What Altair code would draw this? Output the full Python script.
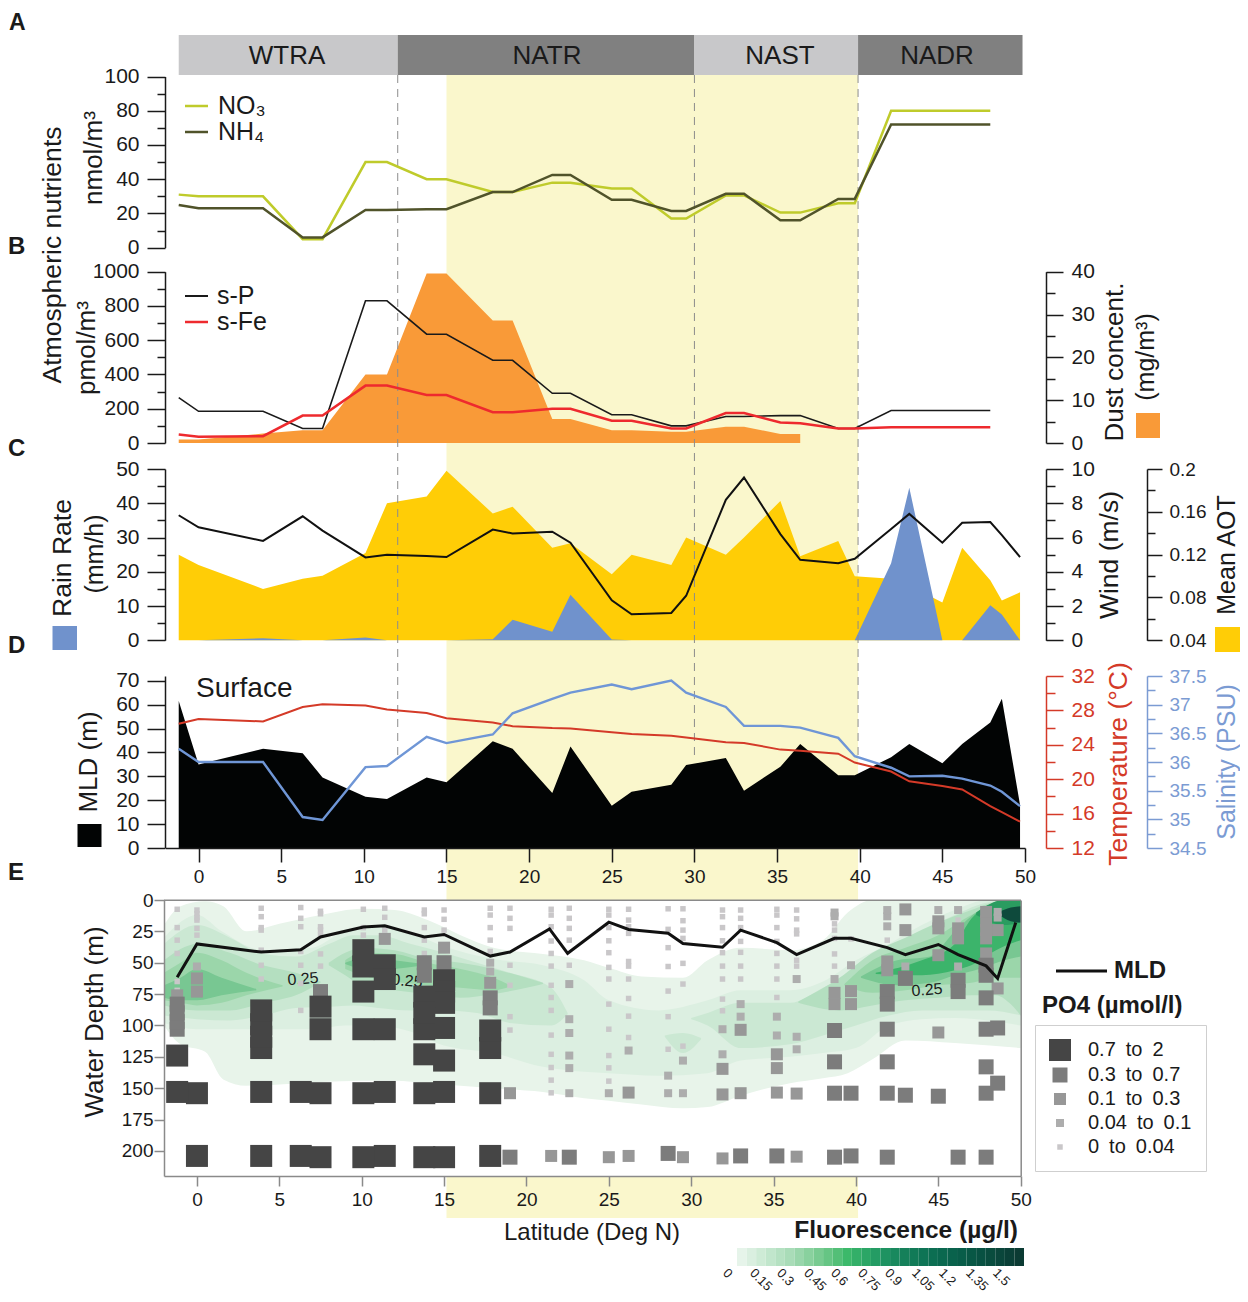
import altair as alt
import pandas as pd

W, H = 1232, 1286
FONT = "Liberation Sans"
INK = "#1a1a1a"

# ---------- stations ----------
LAT_AB = [-1.2, 0, 3.9, 6.3, 7.5, 10.1, 11.4, 13.8, 15, 17.8, 19, 21.4, 22.5, 25, 26.2, 28.6, 29.5, 31.9, 33, 35.2, 36.4, 38.7, 39.7, 41.9, 47.9]
LAT_CD = [-1.2, 0, 3.9, 6.3, 7.5, 10.1, 11.4, 13.8, 15, 17.8, 19, 21.4, 22.5, 25, 26.2, 28.6, 29.5, 31.9, 33, 35.2, 36.4, 38.7, 39.7, 41.9, 43, 45, 46.2, 47.9, 48.6, 49.7]

# ---------- panel A ----------
NO3 = [31, 30, 30, 5, 5, 50, 50, 40, 40, 32.5, 32.5, 38, 38, 34.6, 34.6, 17, 17, 30.5, 30.5, 20.5, 20.5, 26, 26, 80, 80]
NH4 = [25, 23, 23, 6, 6, 22, 22, 22.5, 22.5, 32.5, 32.5, 42.5, 42.5, 28, 28, 21.5, 21.5, 31.5, 31.5, 16, 16, 28.5, 28.5, 72, 72]
# ---------- panel B ----------
S_P = [265, 185, 185, 85, 85, 830, 830, 635, 635, 483, 483, 290, 290, 165, 165, 100, 100, 155, 155, 160, 160, 85, 85, 190, 190]
S_FE = [50, 37, 40, 160, 160, 335, 335, 280, 280, 180, 180, 200, 200, 130, 130, 85, 85, 175, 175, 120, 115, 85, 85, 92, 92]
LAT_DUST = [-1.2, 0, 3.9, 6.3, 7.5, 10.1, 11.4, 13.8, 15, 17.8, 19, 21.4, 22.5, 25, 26.2, 28.6, 29.5, 31.9, 33, 35.2, 36.4]
DUST = [0.8, 0.8, 2.2, 3, 3, 16, 16, 39.6, 39.6, 28.6, 28.6, 5.6, 5.6, 3, 3, 2.6, 2.6, 3.8, 3.8, 2.1, 2.1]
# ---------- panel C ----------
AOT = [.12, .1104, .088, .0976, .1002, .1216, .168, .1744, .1984, .1584, .1648, .1264, .1306, .1018, .12, .1104, .136, .12, .136, .1702, .1184, .1328, .0998, .0976, .0912, .0752, .1264, .096, .0771, .0848]
RAIN = [0, 0, 0.6, 0, 0, 0.8, 0, 0, 0, 0.3, 6, 2.5, 13.3, 0.2, 0, 0, 0, 0, 0, 0, 0, 0, 0, 22.5, 44.5, 0, 0, 10.2, 7.5, 0]
WIND = [7.3, 6.6, 5.8, 7.24, 6.4, 4.84, 5, 4.92, 4.86, 6.46, 6.24, 6.34, 5.7, 2.34, 1.52, 1.6, 2.6, 8.2, 9.5, 6.2, 4.7, 4.5, 4.76, 6.5, 7.38, 5.7, 6.86, 6.9, 6.14, 4.86]
# ---------- panel D ----------
MLD = [61.5, 35, 41.5, 39.7, 29.5, 21.5, 20.5, 29.5, 27.5, 44.7, 41.5, 23, 42.5, 17.7, 23.5, 26.5, 34.7, 37.7, 24, 34, 43.5, 30.5, 30.5, 38, 43.5, 35.5, 43.5, 52.5, 62.5, 18]
TEMP = [26.44, 27, 26.72, 28.39, 28.72, 28.58, 28.11, 27.69, 27.08, 26.58, 26.17, 25.94, 25.89, 25.47, 25.25, 25.06, 24.86, 24.31, 24.22, 23.44, 23.31, 22.97, 21.94, 20.89, 19.75, 19.22, 18.81, 16.86, 16.17, 15.06]
SAL = [36.23, 36, 36, 35.04, 34.99, 35.91, 35.93, 36.44, 36.33, 36.48, 36.85, 37.1, 37.21, 37.35, 37.27, 37.42, 37.21, 36.96, 36.63, 36.63, 36.6, 36.42, 36.1, 35.9, 35.75, 35.76, 35.71, 35.59, 35.48, 35.23]

# ---------- panel E: fluorescence contour bands (lat, top depth, bottom depth) ----------
F_LEVELS = [
    ("#e8f4ea", [[(-2, 20, 100), (-1, 5, 115), (0.5, 1, 121), (1.6, 5, 143), (3, 25, 148), (5, 19, 147), (7.5, 12, 145), (10, 7, 144), (12, 8, 144), (14, 16, 146), (16, 28, 148), (18, 38, 150), (21, 43, 153), (23.5, 48, 158), (25, 54, 160), (27, 61, 163), (29.5, 62, 166), (31, 48, 165), (33, 38, 156), (36, 40, 146), (38, 32, 142), (39.5, 10, 138), (41, 0, 127), (43, 0, 112), (46, 0, 114), (50, 0, 118)]]),
    ("#dcefe1", [[(-2, 30, 98), (0, 12, 103), (1.5, 25, 103), (4, 40, 103), (7, 38, 103), (9, 25, 100), (11, 22, 100), (13, 27, 105), (15, 37, 116), (18, 47, 122), (21, 52, 133), (23.5, 64, 137), (25, 80, 138), (28, 88, 140), (31, 80, 138), (33, 72, 128), (36, 72, 125), (38, 65, 122), (40, 48, 118), (42, 35, 100), (44, 20, 95), (46, 8, 94), (48, 0, 96), (50, 0, 100)]]),
    ("#cbe8d3", [[(-2, 35, 92), (0, 20, 95), (2, 30, 96), (4, 43, 92), (6, 45, 86), (8, 35, 85), (9.5, 28, 84), (11, 28, 86), (13, 35, 88), (15, 42, 88), (17, 50, 90), (19, 58, 98), (21.5, 70, 100), (22.5, 90, 91)],
                 [(30, 94, 95), (31, 90, 100), (33, 82, 118), (36, 82, 115), (38, 70, 108), (40, 55, 100), (42, 40, 92), (44, 25, 88), (46, 12, 88), (48, 2, 88), (50, 0, 92)],
                 [(28.4, 108, 109), (29.5, 106, 122), (30.6, 110, 111)]]),
    ("#b4dfc0", [[(-2, 48, 84), (0, 35, 88), (2, 42, 88), (4, 52, 82), (6, 58, 76), (7.5, 65, 66)],
                 [(8, 50, 52), (9, 42, 60), (10, 38, 68), (12, 40, 72), (14, 47, 75), (16, 50, 78), (18, 55, 75), (20, 62, 70), (21, 66, 67)],
                 [(36.5, 81, 82), (39, 62, 88), (41, 42, 84), (43, 30, 80), (45, 18, 78), (47, 8, 76), (48.5, 2, 76), (49.3, 2, 82), (50, 0, 92)]]),
    ("#9bd6aa", [[(-2, 58, 80), (-1, 50, 82), (0, 42, 84), (1.5, 48, 82), (3, 58, 76), (5.2, 68, 69)],
                 [(9, 48, 55), (10, 42, 60), (12, 43, 65), (14, 50, 68), (16, 55, 70), (18, 62, 72), (19, 68, 69)],
                 [(39.3, 67, 68), (41, 48, 74), (43, 38, 72), (45, 28, 68), (47, 12, 66), (48.5, 3, 62), (50, 0, 62)]]),
    ("#78c792", [[(-2, 68, 78), (-1, 62, 80), (0, 55, 80), (1.5, 62, 76), (3.6, 71, 72)],
                 [(9, 50, 51), (10.5, 45, 56), (12, 48, 55), (13.8, 51, 52)],
                 [(40.3, 61, 62), (42.5, 48, 68), (44.5, 45, 66), (46, 25, 60), (47.5, 8, 55), (49, 0, 48), (50, 0, 45)]]),
    ("#3cb46b", [[(41.2, 58, 59), (44, 48, 60), (46, 35, 56), (47, 15, 52), (48.5, 2, 40), (50, 0, 32)]]),
    ("#2a9c60", [[(47.3, 10, 12), (49, 0, 20), (50, 0, 18)]]),
    ("#0e4a3c", [[(48.6, 10, 11), (49.4, 6, 17), (50, 5, 18)]]),
]

# ---------- panel E: phosphate samples (lat, depths) by class ----------
PO4_NAMES = ["0.7\u2002to\u20022", "0.3\u2002to\u20020.7", "0.1\u2002to\u20020.3", "0.04\u2002to\u20020.1", "0\u2002to\u20020.04"]
PO4_C5 = [(-1.2, [124, 153]), (0, [154, 204]), (3.9, [88, 99, 109, 118, 153, 204]), (6.3, [153, 204]), (7.5, [85, 103, 154, 205]),
          (10.1, [40, 53, 73, 103, 154, 205]), (11.4, [52, 63, 103, 153, 204]), (13.8, [77, 90, 103, 123, 154, 205]),
          (15, [64, 73, 82, 102, 128, 153, 205]), (17.8, [104, 118, 154, 204])]
PO4_C4 = [(-1.2, [83, 90, 97, 103]), (7.5, [73]), (13.8, [50, 60]), (15, [50]), (17.8, [78, 86]), (19, [205]), (22.6, [205]), (28.6, [202]),
          (33, [204]), (35.2, [204]), (38.7, [104, 129, 154, 205]), (39.7, [154, 204]), (41.9, [73, 83, 103, 129, 154, 205]), (43, [62.5, 155.6]),
          (45, [156.4]), (46.2, [64, 73, 205]), (47.9, [52, 60, 78, 103, 133, 154, 205]), (48.6, [102, 146])]
PO4_C3 = [(-1.2, [76]), (0, [62.5, 73]), (11.4, [31]), (15, [38]), (17.8, [66]), (19, [154]), (21.5, [204]), (25, [205]), (26.2, [153.5, 204]),
          (29.5, [205]), (31.9, [134.6, 155, 206]), (33, [103.5, 154]), (35.2, [123, 134, 153.5]), (36.4, [154.3, 204.6]), (38.7, [74, 83]),
          (39.7, [72.6, 83]), (41.9, [49, 56]), (43, [7.5, 24]), (45, [17, 22.6, 44, 105.6]), (46.2, [22.6, 30.6]),
          (47.9, [9.5, 17, 24, 30.6, 42.6]), (48.6, [24, 70.5])]
PO4_C2 = [(0, [53]), (17.8, [50, 57]), (22.6, [67, 95, 106, 124, 134, 154]), (25, [154]), (26.2, [120]), (28.6, [140, 154]), (29.5, [128, 154]),
          (31.9, [103, 123]), (33, [83, 93]), (35.2, [93, 108]), (36.4, [63, 109, 119]), (38.7, [10, 13, 63]), (39.7, [52]), (41.9, [8, 13, 21]),
          (43, [53]), (45, [8]), (46.2, [8, 53]), (48.6, [9.5, 14])]
PO4_C1 = [(-1.2, [7.4, 22, 32, 42.6, 65, 72]), (0, [8, 11, 14, 16, 22.6, 28]), (3.9, [6.6, 13.3, 22, 24, 40, 52, 63]), (6.3, [6, 14.6, 21.3, 41, 52, 66.5, 88]),
          (7.5, [9, 11, 21.3, 24, 28, 43, 52.7]), (10.1, [7.4, 22, 28]), (11.4, [6.6, 13.8, 24]), (13.8, [8, 11, 22, 32, 42.6]), (15, [8, 15.4, 24]),
          (17.8, [6.6, 12, 22, 32, 41]), (19, [6.6, 14.6, 22.6, 52, 68, 93, 103.7]),
          (21.5, [7.4, 12, 21.3, 32.7, 42.6, 52.7, 68, 77.7, 88, 107.7, 123, 133.5, 143.6, 153.7]), (22.6, [6.6, 14.6, 22.6, 32, 52]),
          (25, [7.4, 12, 22, 32.5, 42, 53.7, 63, 83, 103, 124, 133.8, 144.4]), (26.2, [7.4, 16, 21.3, 26.6, 49, 52.7, 63, 78.5, 92.6, 109.6]),
          (28.6, [7, 23.4, 38, 53, 72.6, 93, 119]), (29.5, [7, 16.5, 24, 30.6, 50.5, 67, 116.5]), (31.9, [8, 13.3, 22, 32.5, 42, 52.7, 63, 79, 88.3]),
          (33, [8, 14.6, 22, 33, 41.7, 52.7, 63]), (35.2, [7.4, 12, 22, 33, 42.6, 52.7, 63, 77.7]), (36.4, [8, 15, 24, 27, 48, 52.7]),
          (38.7, [19, 24, 30.6, 43, 52.7]), (39.7, [31]), (41.9, [32]), (43, [8]), (46.2, [16])]
PO4_COLORS = ["#454545", "#7c7c7c", "#979797", "#adadad", "#c9c7c9"]
PO4_SIZES = [484, 225, 144, 64, 30]

# ---------- header and colour bar ----------
PROVINCES = ["WTRA", "NATR", "NAST", "NADR"]
PROV_START = [-1.2, 12.05, 30, 39.9]
PROV_END = [12.05, 30, 39.9, 49.85]
PROV_FILL = ["#c8c8ca", "#808080", "#c8c8ca", "#808080"]
CB_TICKS = [0, 0.15, 0.3, 0.45, 0.6, 0.75, 0.9, 1.05, 1.2, 1.35, 1.5]
CB_LABELS = ["0", "0.15", "0.3", "0.45", "0.6", "0.75", "0.9", "1.05", "1.2", "1.35", "1.5"]
CB_EDGES = [0, .05, .1, .15, .2, .25, .3, .35, .4, .45, .5, .55, .6, .65, .7, .75, .8, .85, .9, .95, 1, 1.05, 1.1, 1.15, 1.2, 1.25, 1.3, 1.35, 1.4, 1.45, 1.5]
DIVIDERS = [12.05, 30, 39.9]


def c(v):
    return v - 8


# ---------- scales ----------
def sc(dom, a, b):
    return alt.Scale(domain=dom, range=[c(a), c(b)], nice=False, zero=False)


XS = sc([-2, 50], 165.5, 1025)
XE = sc([-2, 50], 164, 1020.7)
YA = sc([0, 100], 247.7, 76.5)
YB = sc([0, 1000], 443, 271.7)
YDUST = sc([0, 40], 443, 271.7)
YC = sc([0, 50], 640.3, 469)
YWIND = sc([0, 10], 640.3, 469)
YAOT = sc([0.04, 0.2], 640.3, 469)
YD = sc([0, 72], 848, 676)
YT = sc([12, 32], 848, 676)
YSAL = sc([34.5, 37.5], 848, 676)
YE = sc([0, 220], 900, 1176)


def yaxis(scale, xpos, orient, major, minor, color=INK, fmt=None, tick=18, mtick=8, lab=21, pad=8, width=1.5, labcolor=None):
    off = -c(xpos) if orient == "left" else c(xpos) - W
    out = []
    d = pd.DataFrame({"v": [scale.domain[0]]})
    common = dict(orient=orient, offset=off, title=None, grid=False, zindex=1, tickWidth=width, tickColor=color,
                  domainColor=color, domainWidth=width)
    if minor:
        out.append(alt.Chart(d).mark_point(opacity=0).encode(
            y=alt.Y("v:Q", scale=scale, axis=alt.Axis(values=minor, tickSize=mtick, labels=False, domain=False, **common))))
    kw = dict(format=fmt) if fmt else {}
    out.append(alt.Chart(d).mark_point(opacity=0).encode(
        y=alt.Y("v:Q", scale=scale, axis=alt.Axis(values=major, tickSize=tick, labelFontSize=lab, labelFont=FONT, labelColor=labcolor or color,
                                                  labelPadding=pad, labelOverlap=False, labelFlush=False, **kw, **common))))
    return out


def xaxis(scale, ypos, values, tick=14, lab=19, pad=5, color=INK, width=1.5, labcolor=INK):
    d = pd.DataFrame({"v": [scale.domain[0]]})
    return alt.Chart(d).mark_point(opacity=0).encode(
        x=alt.X("v:Q", scale=scale, axis=alt.Axis(orient="bottom", offset=c(ypos) - H, title=None, grid=False, zindex=1, values=values,
                                                  tickSize=tick, tickWidth=width, tickColor=color, domainColor=color, domainWidth=width,
                                                  labelFontSize=lab, labelFont=FONT, labelColor=labcolor, labelPadding=pad,
                                                  labelOverlap=False, labelFlush=False)))


def txt(s, x, y, size=20, angle=0, color=INK, weight="normal", align="center", baseline="middle"):
    return alt.Chart(pd.DataFrame({"t": [s]})).mark_text(
        font=FONT, fontSize=size, angle=angle, color=color, fontWeight=weight, align=align, baseline=baseline
    ).encode(text="t:N", x=alt.value(c(x)), y=alt.value(c(y)))


def swatch(color, x0, x1, y0, y1):
    return alt.Chart(pd.DataFrame({"k": [0]})).mark_rect(color=color).encode(
        x=alt.value(c(x0)), x2=alt.value(c(x1)), y=alt.value(c(y0)), y2=alt.value(c(y1)))


def key_line(color, x0, x1, y, width):
    return alt.Chart(pd.DataFrame({"k": [0]})).mark_rule(color=color, strokeWidth=width).encode(
        x=alt.value(c(x0)), x2=alt.value(c(x1)), y=alt.value(c(y)))


def line(xs, ys, xscale, yscale, color, width):
    d = pd.DataFrame({"lat": xs, "v": ys})
    return alt.Chart(d).mark_line(color=color, strokeWidth=width, strokeJoin="miter").encode(
        x=alt.X("lat:Q", scale=xscale, axis=None), y=alt.Y("v:Q", scale=yscale, axis=None))


def area(xs, ys, base, yscale, color):
    d = pd.DataFrame({"lat": xs, "v": ys, "b": [base] * len(xs)})
    return alt.Chart(d).mark_area(color=color, opacity=1).encode(
        x=alt.X("lat:Q", scale=XS, axis=None), y=alt.Y("v:Q", scale=yscale, axis=None), y2="b:Q")


layers = []

# yellow season band, white panel-E background, province header
layers.append(alt.Chart(pd.DataFrame({"a": [15], "b": [39.9]})).mark_rect(color="#faf7cc").encode(
    x=alt.X("a:Q", scale=XS, axis=None), x2="b:Q", y=alt.value(c(75)), y2=alt.value(c(1218))))
layers.append(swatch("#ffffff", 164, 1021, 900, 1176))
prov = pd.DataFrame({"name": PROVINCES, "a": PROV_START, "b": PROV_END, "fill": PROV_FILL})
layers.append(alt.Chart(prov).mark_rect().encode(
    x=alt.X("a:Q", scale=XS, axis=None), x2="b:Q", y=alt.value(c(35)), y2=alt.value(c(75)),
    color=alt.Color("fill:N", scale=None)))
for name, px in zip(PROVINCES, [287, 547, 780, 937]):
    layers.append(txt(name, px, 56, 26))

# filled areas
layers.append(area(LAT_DUST, DUST, 0, YDUST, "#f99a38"))
layers.append(area(LAT_CD, AOT, 0.04, YAOT, "#ffcd06"))
layers.append(area(LAT_CD, RAIN, 0, YC, "#7092cc"))
layers.append(area(LAT_CD, MLD, 0, YD, "#020404"))

# province dividers
layers.append(alt.Chart(pd.DataFrame({"lat": DIVIDERS})).mark_rule(color="#8c8c8c", strokeWidth=1, strokeDash=[8, 6]).encode(
    x=alt.X("lat:Q", scale=XS, axis=None), y=alt.value(c(75)), y2=alt.value(c(760))))

# lines
layers.append(line(LAT_AB, NO3, XS, YA, "#bfcb2b", 2.5))
layers.append(line(LAT_AB, NH4, XS, YA, "#50532a", 2.5))
layers.append(line(LAT_AB, S_P, XS, YB, "#1a1a1a", 1.6))
layers.append(line(LAT_AB, S_FE, XS, YB, "#ee2a2e", 2.5))
layers.append(line(LAT_CD, WIND, XS, YWIND, "#111111", 2))
layers.append(line(LAT_CD, TEMP, XS, YT, "#d43a28", 2))
layers.append(line(LAT_CD, SAL, XS, YSAL, "#6f96d6", 2.4))

# panel E contours
for lev, (col, blobs) in enumerate(F_LEVELS):
    rows = []
    for bi, blob in enumerate(blobs):
        for la, top, bot in blob:
            rows.append({"lat": la, "top": top, "bot": bot, "blob": f"{lev}-{bi}"})
    layers.append(alt.Chart(pd.DataFrame(rows)).mark_area(interpolate="monotone", color=col, opacity=1).encode(
        x=alt.X("lat:Q", scale=XE, axis=None), y=alt.Y("top:Q", scale=YE, axis=None), y2="bot:Q", detail="blob:N"))

layers.append(txt("0.25", 303, 979, 16, angle=355))
layers.append(txt("0.25", 407, 981, 16, angle=5))

# PO4 squares
po = []
for name, group in zip(PO4_NAMES, [PO4_C5, PO4_C4, PO4_C3, PO4_C2, PO4_C1]):
    for la, depths in group:
        for dp in depths:
            po.append({"lat": la, "depth": dp, "cls": name})
po = pd.DataFrame(po)
po["rank"] = po["cls"].map({n: i for i, n in enumerate(PO4_NAMES)})
po = po.sort_values("rank", ascending=False)
leg = alt.Legend(orient="none", legendX=c(1035), legendY=c(1025), title=None, symbolType="square", labelFont=FONT, labelFontSize=20,
                 labelColor=INK, strokeColor="#cfcfcf", padding=14, labelOffset=17, rowPadding=4, symbolStrokeWidth=0, fillColor="white")
layers.append(alt.Chart(po).mark_square(opacity=1, strokeWidth=0).encode(
    x=alt.X("lat:Q", scale=XE, axis=None), y=alt.Y("depth:Q", scale=YE, axis=None),
    color=alt.Color("cls:N", scale=alt.Scale(domain=PO4_NAMES, range=PO4_COLORS), legend=leg),
    size=alt.Size("cls:N", scale=alt.Scale(type="ordinal", domain=PO4_NAMES, range=PO4_SIZES), legend=leg),
    order=alt.Order("rank:Q", sort="descending")))

layers.append(txt("0.25", 927, 990, 16, angle=355))
layers.append(line(LAT_CD, MLD, XE, YE, "#111111", 3))

# colour bar
cb = pd.DataFrame({"a": CB_EDGES[:-1], "b": CB_EDGES[1:]})
layers.append(alt.Chart(cb).mark_rect().encode(
    x=alt.X("a:Q", scale=sc([0, 1.5], 737, 1024), axis=None), x2="b:Q", y=alt.value(c(1248)), y2=alt.value(c(1266)),
    color=alt.Color("a:Q", legend=None, scale=alt.Scale(domain=[0, .25, .55, .85, 1.45], range=["#e6f4ea", "#a9dcb8", "#3cb96a", "#15805a", "#0b3b33"]))))
cbt = pd.DataFrame({"v": CB_TICKS, "t": CB_LABELS})
layers.append(alt.Chart(cbt).mark_text(font=FONT, fontSize=13, angle=45, align="left", baseline="middle", color=INK).encode(
    x=alt.X("v:Q", scale=sc([0, 1.5], 725, 995), axis=None), y=alt.value(c(1271)), text="t:N"))

# axes
layers += yaxis(YA, 165, "left", [0, 20, 40, 60, 80, 100], [10, 30, 50, 70, 90])
layers += yaxis(YB, 165, "left", [0, 200, 400, 600, 800, 1000], [100, 300, 500, 700, 900], fmt="d")
layers += yaxis(YC, 165, "left", [0, 10, 20, 30, 40, 50], [5, 15, 25, 35, 45])
layers += yaxis(YD, 165, "left", [0, 10, 20, 30, 40, 50, 60, 70], [])
layers += yaxis(YDUST, 1046, "right", [0, 10, 20, 30, 40], [5, 15, 25, 35], tick=17, mtick=9)
layers += yaxis(YWIND, 1046, "right", [0, 2, 4, 6, 8, 10], [1, 3, 5, 7, 9], tick=17, mtick=9)
layers += yaxis(YAOT, 1147, "right", [.04, .08, .12, .16, .2], [.06, .1, .14, .18], fmt=".2~f", tick=15, mtick=8, lab=19, pad=7)
layers += yaxis(YT, 1046, "right", [12, 16, 20, 24, 28, 32], [14, 18, 22, 26, 30], color="#d43a28", tick=17, mtick=9)
layers += yaxis(YSAL, 1147, "right", [34.5, 35, 35.5, 36, 36.5, 37, 37.5], [34.75, 35.25, 35.75, 36.25, 36.75, 37.25], color="#7b9bd3",
                fmt=".3~r", tick=15, mtick=8, lab=19, pad=7)
layers.append(xaxis(XS, 848, [0, 5, 10, 15, 20, 25, 30, 35, 40, 45, 50]))
GREY = "#8a8a8a"
layers.append(xaxis(XE, 1176, [0, 5, 10, 15, 20, 25, 30, 35, 40, 45, 50], tick=10, pad=4, color=GREY))
layers += yaxis(YE, 164, "left", [0, 25, 50, 75, 100, 125, 150, 175, 200], [], tick=10, lab=19, pad=1, color=GREY, labcolor=INK)
# frame of panel E (top and right)
layers.append(alt.Chart(pd.DataFrame({"v": [0]})).mark_point(opacity=0).encode(
    y=alt.Y("v:Q", scale=YE, axis=alt.Axis(orient="right", offset=c(1020.7) - W, title=None, grid=False, zindex=1, ticks=False, labels=False,
                                           domainColor=GREY, domainWidth=1.5))))
layers.append(swatch(GREY, 164, 1021, 899.5, 901))

# titles and annotation text
layers += [
    txt("A", 9, 23, 23, weight="bold", align="left"), txt("B", 8, 247, 24, weight="bold", align="left"),
    txt("C", 8, 449, 24, weight="bold", align="left"), txt("D", 8, 646, 24, weight="bold", align="left"),
    txt("E", 8, 873, 24, weight="bold", align="left"),
    txt("Atmospheric nutrients", 53, 255, 26.6, angle=270),
    txt("nmol/m³", 94, 158, 26, angle=270), txt("pmol/m³", 87, 348, 26, angle=270),
    txt("Dust concent.", 1115, 362, 26, angle=270), txt("(mg/m³)", 1146, 357, 25, angle=270),
    txt("Rain Rate", 63, 558, 26.5, angle=270), txt("(mm/h)", 95, 554, 25, angle=270),
    txt("Wind (m/s)", 1110, 555, 26.5, angle=270), txt("Mean AOT", 1227, 555, 25, angle=270),
    txt("MLD (m)", 89, 762, 26, angle=270), txt("Surface", 196, 689, 28, align="left"),
    txt("Temperature (°C)", 1119, 764, 26.5, angle=270, color="#d43a28"),
    txt("Salinity (PSU)", 1227, 762, 25, angle=270, color="#7b9bd3"),
    txt("Water Depth (m)", 95, 1022, 26, angle=270), txt("Latitude (Deg N)", 592, 1233, 24),
    txt("Fluorescence (µg/l)", 1018, 1231, 24.5, weight="bold", align="right"),
    txt("MLD", 1114, 971, 24, weight="bold", align="left"), txt("PO4 (µmol/l)", 1042, 1006, 24, weight="bold", align="left"),
    txt("NO₃", 218, 106, 25, align="left"), txt("NH₄", 218, 132, 25, align="left"),
    txt("s-P", 217, 296, 25, align="left"), txt("s-Fe", 217, 322, 25, align="left"),
    key_line("#bfcb2b", 185, 208, 106, 2.5), key_line("#50532a", 185, 208, 132, 2.5),
    key_line("#1a1a1a", 185, 208, 296, 2), key_line("#ee2a2e", 185, 208, 322, 2.5),
    key_line("#111111", 1056, 1107, 971, 3),
    swatch("#f99a38", 1136, 1160, 413, 438), swatch("#7092cc", 52.5, 77, 626, 650),
    swatch("#ffcd06", 1215, 1240, 627, 652), swatch("#020404", 77.5, 101.5, 824, 847),
]

chart = alt.layer(*layers).resolve_scale(x="independent", y="independent", color="independent", size="independent").properties(
    width=W, height=H, padding=0, autosize=alt.AutoSizeParams(type="none")
).configure_view(stroke=None).configure_axis(grid=False)

chart.save("out.html", embed_options={"renderer": "svg", "actions": False})
